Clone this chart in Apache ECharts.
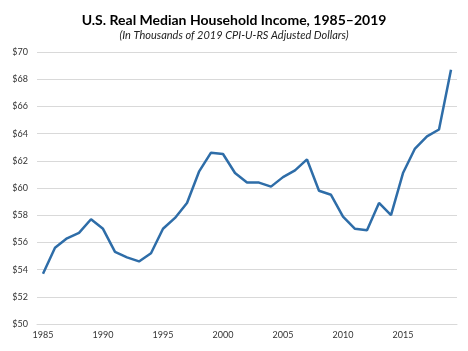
<!DOCTYPE html>
<html>
<head>
<meta charset="utf-8">
<script src="https://cdn.jsdelivr.net/npm/echarts@6/dist/echarts.min.js"></script>
<style>
  html, body { margin: 0; padding: 0; background: #fff; }
  #chart { width: 468px; height: 351px; }
</style>
</head>
<body>
<div id="chart"></div>
<script>
var years = [];
for (var y = 1985; y <= 2019; y++) years.push(String(y));

// thousands of 2019 CPI-U-RS dollars
var income = [53.7, 55.6, 56.3, 56.7, 57.7, 57.0, 55.3, 54.9, 54.6, 55.2,
              57.0, 57.8, 58.9, 61.2, 62.6, 62.5, 61.1, 60.4, 60.4, 60.1,
              60.8, 61.3, 62.1, 59.8, 59.5, 57.9, 57.0, 56.9, 58.9, 58.0,
              61.1, 62.9, 63.8, 64.3, 68.7];

var yTicks = ['$50', '$52', '$54', '$56', '$58', '$60', '$62', '$64', '$66', '$68', '$70'];

var font = 'Lato, "Open Sans", sans-serif';

var option = {
    animation: false,
    backgroundColor: '#fff',
    title: {
        text: 'U.S. Real Median Household Income, 1985\u20132019',
        subtext: '(In Thousands of 2019 CPI-U-RS Adjusted Dollars)',
        left: 'center',
        top: 8,
        itemGap: 3,
        textStyle: { fontFamily: font, fontSize: 14, fontWeight: 'bold', color: '#000' },
        subtextStyle: { fontFamily: font, fontSize: 11, fontStyle: 'italic', color: '#222' }
    },
    grid: { left: 37, right: 11, top: 52, bottom: 27 },
    xAxis: {
        type: 'category',
        data: years,
        boundaryGap: true,
        axisLine: { lineStyle: { color: '#d9d9d9' } },
        axisTick: { show: false },
        axisLabel: { interval: 4, fontFamily: font, fontSize: 9, color: '#333', margin: 7 }
    },
    yAxis: {
        type: 'value',
        min: 50,
        max: 70,
        interval: 2,
        axisLine: { show: false },
        axisTick: { show: false },
        splitLine: { lineStyle: { color: '#d9d9d9' } },
        axisLabel: {
            fontFamily: font, fontSize: 9, color: '#333', margin: 9,
            formatter: function (v) { return yTicks[(v - 50) / 2]; }
        }
    },
    series: [{
        type: 'line',
        data: income,
        symbol: 'none',
        lineStyle: { color: '#2e6da8', width: 2.5 }
    }]
};

var myChart = echarts.init(document.getElementById('chart'));
myChart.setOption(option);
</script>
</body>
</html>
